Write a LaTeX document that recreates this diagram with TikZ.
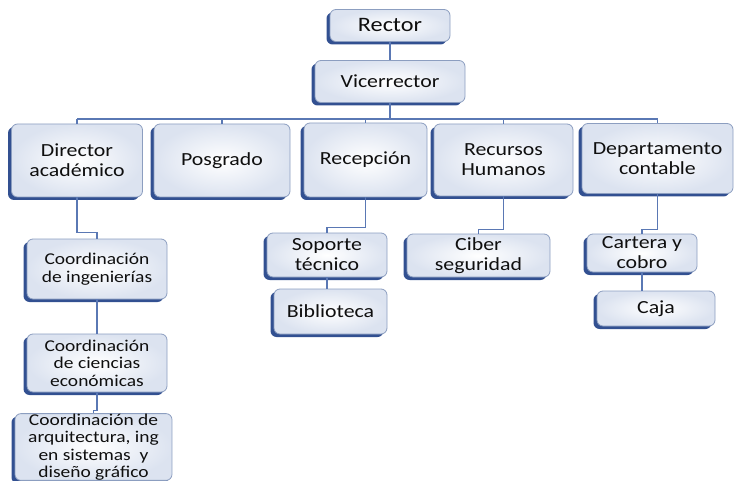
\documentclass[tikz,border=0pt]{standalone}
\usepackage{fontspec}
\setmainfont{Carlito}[FakeStretch=1.18]
\usetikzlibrary{shadows,calc}
\definecolor{edgeblue}{RGB}{140,158,192}
\definecolor{shadowblue}{RGB}{50,80,145}
\definecolor{linkblue}{RGB}{90,120,180}
\definecolor{fillouter}{RGB}{220,227,240}
\definecolor{txt}{RGB}{15,15,15}
\tikzset{
  orgbox/.style={draw=edgeblue, line width=0.8pt, rounded corners=6pt,
    inner color=white, outer color=fillouter, text=txt, align=center,
    inner sep=0pt,
    general shadow={shadow xshift=-3.5pt, shadow yshift=-3pt, fill=shadowblue, rounded corners=6pt},
    font=\fontsize{18.5}{20}\selectfont},
  small/.style={font=\fontsize{16.5}{17.5}\selectfont},
  link/.style={draw=linkblue, line width=1.1pt}
}
\begin{document}
\begin{tikzpicture}[x=1pt,y=-1pt]
\useasboundingbox (0,0) rectangle (736,481);
\node[orgbox, minimum width=120, minimum height=32, font=\fontsize{20.5}{22}\selectfont] (rector) at (390,25.5) {Rector};
\node[orgbox, minimum width=150, minimum height=42] (vice) at (390,81.5) {Vicerrector};

\node[orgbox, minimum width=131, minimum height=73] (dir) at (77,160.5) {Director\\académico};
\node[orgbox, minimum width=136, minimum height=73] (pos) at (222,160.5) {Posgrado};
\node[orgbox, minimum width=123, minimum height=74] (rec) at (365.5,160) {Recepción};
\node[orgbox, minimum width=139, minimum height=72] (rrhh) at (503.5,160) {Recursos\\Humanos};
\node[orgbox, minimum width=151, minimum height=70] (dep) at (657.5,158.5) {Departamento\\contable};

\node[orgbox, small, minimum width=140, minimum height=60] (cing) at (97,269) {Coordinación\\de ingenierías};
\node[orgbox, small, minimum width=140, minimum height=58] (ccien) at (97,363) {Coordinación\\de ciencias\\económicas};
\node[orgbox, small, minimum width=157, minimum height=59] (carq) at (93.5,447) {Coordinación de\\arquitectura, ing\\en sistemas\ \ y\\diseño gráfico};

\node[orgbox, minimum width=120, minimum height=44] (sop) at (327,255) {Soporte\\técnico};
\node[orgbox, minimum width=113, minimum height=45] (bib) at (330.5,311.5) {Biblioteca};
\node[orgbox, minimum width=143, minimum height=43] (cib) at (478.5,255.5) {Ciber\\seguridad};
\node[orgbox, minimum width=110, minimum height=38] (car) at (642,253) {Cartera y\\cobro};
\node[orgbox, minimum width=118, minimum height=35] (caja) at (656,308.5) {Caja};

\coordinate (bus) at (0,119);
\draw[link] (rector.south) -- (vice.north);
\draw[link] (vice.south) -- (vice.south |- bus);
\draw[link] (dir.north |- bus) -- (dep.north |- bus);
\foreach \n in {dir,pos,rec,rrhh,dep}{
  \draw[link] (\n.north |- bus) -- (\n.north);
}
\draw[link] (dir.south) -- ++(0,35) -| (cing.north);
\draw[link] (cing.south) -- (ccien.north);
\draw[link] (ccien.south) -- ++(0,18) -| (carq.north);
\draw[link] (rec.south) -- ++(0,30) -| (sop.north);
\draw[link] (sop.south) -- (sop.south |- bib.north);
\draw[link] (rrhh.south) -- ++(0,33) -| (cib.north);
\draw[link] (dep.south) -- ++(0,36) -| (car.north);
\draw[link] (car.south) -- (car.south |- caja.north);
\end{tikzpicture}
\end{document}
